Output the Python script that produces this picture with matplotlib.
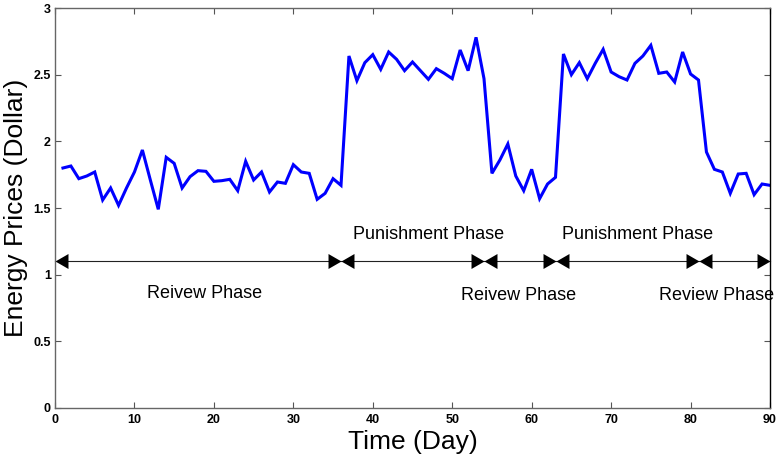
import matplotlib
matplotlib.use("Agg")
import matplotlib.pyplot as plt
from matplotlib.path import Path
from matplotlib.markers import MarkerStyle
import numpy as np

plt.rcParams['font.family'] = ['Liberation Sans', 'DejaVu Sans']

days = list(range(1, 91))
prices = [1.80, 1.815, 1.72, 1.74, 1.77, 1.56, 1.65, 1.52, 1.65, 1.77,
          1.935, 1.71, 1.49, 1.88, 1.835, 1.65, 1.735, 1.78, 1.775, 1.70,
          1.705, 1.715, 1.63, 1.85, 1.71, 1.77, 1.62, 1.695, 1.685, 1.825,
          1.77, 1.76, 1.565, 1.61, 1.72, 1.67, 2.64, 2.455, 2.59, 2.65,
          2.54, 2.67, 2.615, 2.53, 2.595, 2.53, 2.465, 2.545, 2.51, 2.47,
          2.685, 2.53, 2.78, 2.47, 1.76, 1.86, 1.98, 1.74, 1.63, 1.79,
          1.57, 1.68, 1.73, 2.655, 2.50, 2.59, 2.47, 2.585, 2.69, 2.52,
          2.485, 2.46, 2.585, 2.64, 2.72, 2.51, 2.52, 2.445, 2.67, 2.505,
          2.46, 1.92, 1.79, 1.77, 1.61, 1.755, 1.76, 1.60, 1.68, 1.67]

phase_bounds = [0, 36, 54, 63, 81, 90]
arrow_level = 1.1
phase_labels = ["Reivew Phase", "Punishment Phase", "Reivew Phase", "Punishment Phase", "Review Phase"]
label_x = [18.8, 47.0, 58.4, 73.3, 83.3]
label_y = [0.855, 1.305, 0.84, 1.305, 0.845]

xticks = list(range(0, 91, 10))
yticks = [0, 0.5, 1, 1.5, 2, 2.5, 3]
ytick_labels = ["0", "0.5", "1", "1.5", "2", "2.5", "3"]

fig = plt.figure(figsize=(7.78, 4.55), dpi=100)
ax = fig.add_axes([55/778, 1-408/455, (770-55)/778, 400/455])

ax.plot(days, prices, color='#0000ff', lw=2.2, solid_joinstyle='miter')

# double-headed arrows: tip of each head sits exactly on the phase boundary
right_head = MarkerStyle(Path([(0, 0), (-1, 0.577), (-1, -0.577), (0, 0)], closed=True))
left_head = MarkerStyle(Path([(0, 0), (1, 0.577), (1, -0.577), (0, 0)], closed=True))
ax.plot([phase_bounds[0], phase_bounds[-1]], [arrow_level, arrow_level],
        color='#222222', lw=0.8, clip_on=False)
ax.plot(phase_bounds[1:], [arrow_level] * (len(phase_bounds) - 1), ls='none',
        marker=right_head, ms=18.7, color='black', mew=0, clip_on=False)
ax.plot(phase_bounds[:-1], [arrow_level] * (len(phase_bounds) - 1), ls='none',
        marker=left_head, ms=18.7, color='black', mew=0, clip_on=False)

for t, x, y in zip(phase_labels, label_x, label_y):
    ax.text(x, y, t, ha='center', va='center', fontsize=13, clip_on=False)

ax.set_xlim(0, 90)
ax.set_ylim(0, 3)
ax.set_xticks(xticks)
ax.set_yticks(yticks)
ax.set_yticklabels(ytick_labels)
ax.tick_params(direction='in', length=4.5, width=0.8, colors='#555555',
               labelcolor='black', labelsize=9, top=True, right=True)
for lab in ax.get_xticklabels() + ax.get_yticklabels():
    lab.set_fontweight('bold')
ax.tick_params(axis='x', pad=4)
ax.tick_params(axis='y', pad=3)
for s in ['left', 'bottom', 'top']:
    ax.spines[s].set_color('#666666')
    ax.spines[s].set_linewidth(1.0)
ax.spines['right'].set_color('black')
ax.spines['right'].set_linewidth(1.0)

ax.set_xlabel('Time (Day)', fontsize=19, labelpad=3)
ax.set_ylabel('Energy Prices (Dollar)', fontsize=19, labelpad=4)

fig.savefig('out.png', dpi=100)
